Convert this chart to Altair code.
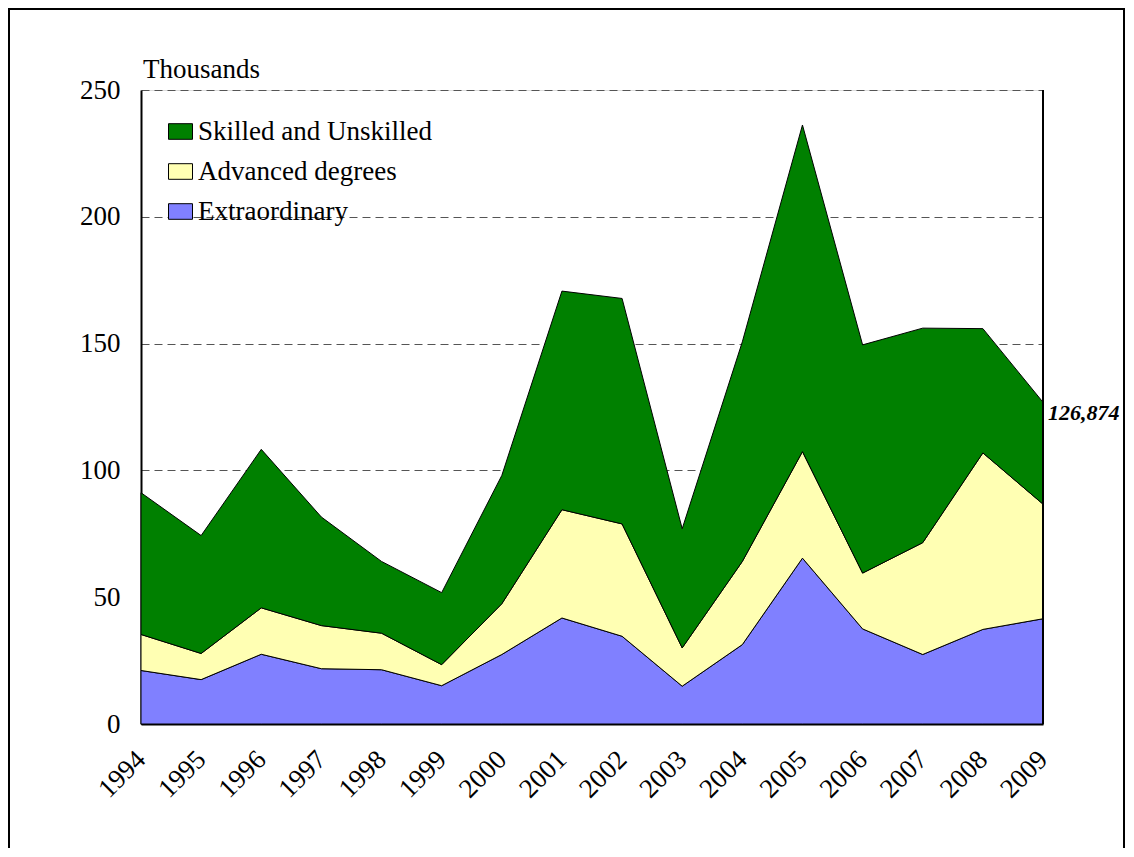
import altair as alt
import pandas as pd

years = list(range(1994, 2010))
series_names = ["Skilled and Unskilled", "Advanced degrees", "Extraordinary"]
series_colors = ["#008000", "#FFFFB3", "#8080FF"]

extraordinary = [21.1, 17.5, 27.5, 21.8, 21.4, 15.1, 27.4, 41.8, 34.6, 14.9, 31.3, 65.4, 37.5, 27.4, 37.3, 41.5]
advanced = [14.2, 10.3, 18.3, 17.0, 14.4, 8.3, 20.0, 42.7, 44.3, 15.1, 32.8, 42.0, 22.0, 44.1, 69.6, 45.2]
skilled = [55.9, 46.5, 62.5, 42.8, 28.3, 28.4, 50.6, 86.2, 88.9, 47.0, 86.6, 128.8, 90.0, 84.6, 49.0, 40.174]

y_ticks = [0, 50, 100, 150, 200, 250]
annot_year = [2009]
annot_value = [126.874]
annot_text = ["126,874"]

rows = []
for i, y in enumerate(years):
    rows.append({"year": y, "series": "Extraordinary", "value": extraordinary[i], "ord": 0})
    rows.append({"year": y, "series": "Advanced degrees", "value": advanced[i], "ord": 1})
    rows.append({"year": y, "series": "Skilled and Unskilled", "value": skilled[i], "ord": 2})
df = pd.DataFrame(rows)

FONT = "Liberation Serif"

x_scale = alt.Scale(domain=[years[0], years[-1]], nice=False, zero=False)
y_scale = alt.Scale(domain=[0, 250], nice=False)

areas = alt.Chart(df).mark_area(stroke="black", strokeWidth=1, opacity=1).encode(
    x=alt.X("year:Q", scale=x_scale, title=None,
            axis=alt.Axis(values=years, format="d", labelAngle=315, labelAlign="right",
                          labelBaseline="middle", labelPadding=31, ticks=False, grid=False,
                          domainColor="black", domainWidth=2, labelFont=FONT,
                          labelFontSize=27, labelColor="black", labelOverlap=False,
                          labelFlush=False)),
    y=alt.Y("value:Q", stack="zero", scale=y_scale, title=None,
            axis=alt.Axis(values=y_ticks, ticks=False, grid=True, gridDash=[8, 5],
                          gridColor="#555555", gridWidth=1, domainColor="black",
                          domainWidth=2, labelFont=FONT, labelFontSize=27,
                          labelColor="black", labelPadding=21, labelBaseline="middle")),
    color=alt.Color("series:N",
                    scale=alt.Scale(domain=series_names, range=series_colors),
                    legend=alt.Legend(title=None, orient="none", legendX=26, legendY=28,
                                      symbolType="M-1,-0.65L1,-0.65L1,0.65L-1,0.65Z",
                                      symbolSize=576, symbolStrokeColor="black",
                                      symbolStrokeWidth=1, symbolOpacity=1,
                                      labelFont=FONT, labelFontSize=27, labelColor="black",
                                      labelOffset=4, rowPadding=12, padding=0,
                                      labelLimit=400)),
    order=alt.Order("ord:Q", sort="ascending"),
)

right_border = alt.Chart(pd.DataFrame({"year": annot_year})).mark_rule(
    color="black", strokeWidth=2).encode(
    x=alt.X("year:Q", scale=x_scale), y=alt.value(0), y2=alt.value(634))

annot = alt.Chart(pd.DataFrame({"year": annot_year, "value": annot_value, "t": annot_text})).mark_text(
    font=FONT, fontSize=22, fontWeight="bold", fontStyle="italic", align="left",
    baseline="middle", dx=5, dy=11, color="black").encode(
    x=alt.X("year:Q", scale=x_scale), y=alt.Y("value:Q", scale=y_scale), text="t:N")

units = alt.Chart(pd.DataFrame({"t": ["Thousands"]})).mark_text(
    font=FONT, fontSize=27, align="left", baseline="middle", color="black").encode(
    x=alt.value(2), y=alt.value(-20), text="t:N")

frame = alt.Chart(pd.DataFrame({"a": [0]})).mark_rect(
    fill=None, stroke="black", strokeWidth=2).encode(
    x=alt.value(-132), x2=alt.value(983), y=alt.value(-81), y2=alt.value(900))

chart = alt.layer(frame, areas, right_border, annot, units).properties(
    width=902, height=634,
    autosize=alt.AutoSizeParams(type="none"),
    padding={"left": 133, "top": 82, "right": 83, "bottom": 124},
).configure_view(stroke=None).configure(font=FONT)

chart.save("out.html", embed_options={"renderer": "svg", "actions": False})
